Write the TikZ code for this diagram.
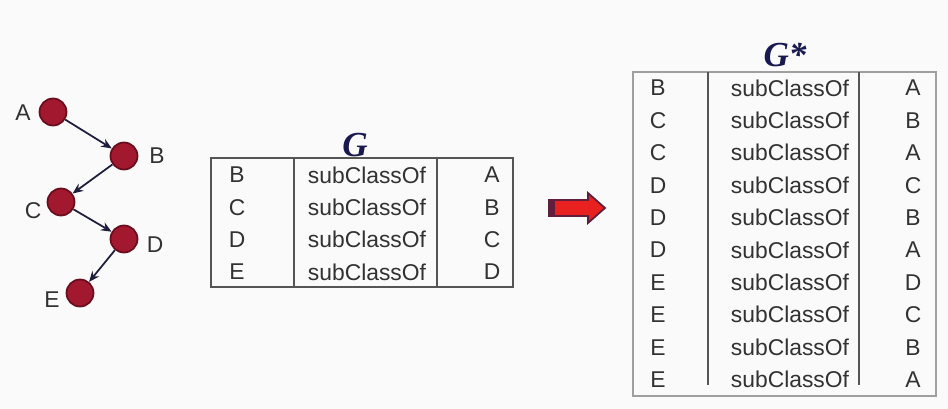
\documentclass[tikz,border=0pt]{standalone}
\usepackage{fontspec}
\setmainfont{Liberation Sans}
\newfontfamily\titlefont{Liberation Serif}
\usetikzlibrary{arrows.meta}

\definecolor{bg}{RGB}{250,250,250}
\definecolor{ballred}{RGB}{162,24,46}
\definecolor{ballrim}{RGB}{105,14,30}
\definecolor{edgecol}{RGB}{30,30,60}
\definecolor{txt}{RGB}{50,50,50}
\definecolor{rulecol}{RGB}{85,85,85}
\definecolor{navy}{RGB}{25,25,80}
\definecolor{arrowred}{RGB}{232,32,32}
\definecolor{arrowrim}{RGB}{95,30,60}

\begin{document}
\begin{tikzpicture}[x=0.02cm,y=-0.02cm,
  ball/.style={circle,fill=ballred,draw=ballrim,line width=1pt,minimum size=0.54cm,inner sep=0pt},
  lbl/.style={font=\fontsize{13}{15}\selectfont,text=txt,inner sep=0pt},
  edge/.style={draw=edgecol,line width=1pt,-{Stealth[length=6pt,width=5pt]}},
  cell/.style={font=\fontsize{13}{15}\selectfont,text=txt,inner sep=0pt,anchor=center},
  tbl/.style={draw=rulecol,line width=0.8pt},
  title/.style={font=\titlefont\bfseries\itshape\fontsize{20}{23}\selectfont,text=navy,inner sep=0pt}
]
% canvas
\fill[bg] (0,0) rectangle (948,409);
\useasboundingbox (0,0) rectangle (948,409);

% class hierarchy
\node[ball] (A) at (53,112) {};
\node[ball] (B) at (124,156) {};
\node[ball] (C) at (61,202) {};
\node[ball] (D) at (124,239) {};
\node[ball] (E) at (80,293) {};
\node[lbl] (lA) at (23,113) {A};
\node[lbl] (lB) at (157,156) {B};
\node[lbl] (lC) at (33,211) {C};
\node[lbl] (lD) at (155,245) {D};
\node[lbl] (lE) at (52,300) {E};
\draw[edge] (A) -- (B);
\draw[edge] (B) -- (C);
\draw[edge] (C) -- (D);
\draw[edge] (D) -- (E);

% table G
\node[title] (gtitle) at (355,145) {G};
\draw[tbl] (211,158) rectangle (513,287);
\draw[tbl] (294,158) -- (294,287);
\draw[tbl] (437,158) -- (437,287);
\foreach \s/\o [count=\i from 0] in {B/A,C/B,D/C,E/D}{
  \node[cell] (g\i s) at (237,175+32.3*\i) {\s};
  \node[cell] (g\i p) at (367,175+32.3*\i) {subClassOf};
  \node[cell] (g\i o) at (492,175+32.3*\i) {\o};
}

% closure arrow
\draw[fill=arrowred,draw=arrowrim,line width=1pt,line join=miter]
  (549,200) -- (588,200) -- (588,193) -- (605,208) -- (588,223) -- (588,216) -- (549,216) -- cycle;
\fill[arrowrim] (549,200) rectangle (555,216);

% table G*
\node[title] (gstitle) at (785,55) {G*};
\draw[draw=gray!75,line width=1.2pt] (633,72) rectangle (936,396);
\draw[tbl] (708,72) -- (708,385);
\draw[tbl] (859,72) -- (859,385);
\foreach \s/\o [count=\i from 0] in {B/A,C/B,C/A,D/C,D/B,D/A,E/D,E/C,E/B,E/A}{
  \node[cell] (h\i s) at (658,88+32.4*\i) {\s};
  \node[cell] (h\i p) at (790,88+32.4*\i) {subClassOf};
  \node[cell] (h\i o) at (913,88+32.4*\i) {\o};
}
\end{tikzpicture}
\end{document}
